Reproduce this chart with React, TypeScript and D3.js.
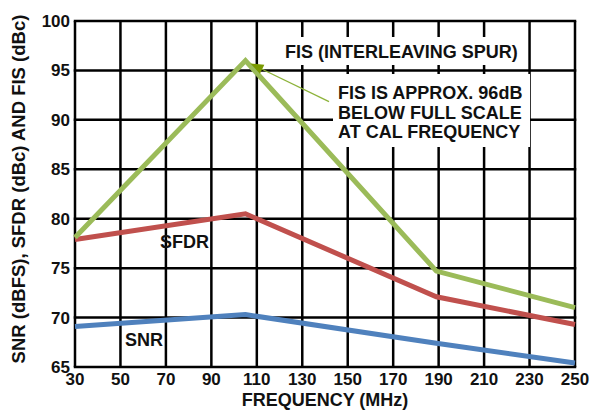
import React from 'react';
import * as d3 from 'd3';

const freqs = [30, 105, 189, 250];
const fis = [78.1, 96, 74.7, 71];
const sfdr = [77.9, 80.5, 72.1, 69.3];
const snr = [69.1, 70.3, 67.4, 65.4];
const xTicks = [30, 50, 70, 90, 110, 130, 150, 170, 190, 210, 230, 250];
const yTicks = [65, 70, 75, 80, 85, 90, 95, 100];

const W = 600;
const H = 414;
const m = { left: 75, right: 25, top: 21, bottom: 47 };
const font = '"Liberation Sans", Arial, sans-serif';

const App = () => {
  const x = d3.scaleLinear().domain([30, 250]).range([m.left, W - m.right]);
  const y = d3.scaleLinear().domain([65, 100]).range([H - m.bottom, m.top]);

  const line = d3
    .line<number>()
    .x((d, i) => x(freqs[i]))
    .y((d) => y(d));

  const series = [
    { vals: snr, color: '#4F81BD' },
    { vals: sfdr, color: '#C0504D' },
    { vals: fis, color: '#9BBB59' },
  ];

  // arrow from the note to the FIS peak
  const tipX = x(105) + 5;
  const tipY = y(96) + 3;
  const fromX = 329;
  const fromY = 101.7;
  const ang = Math.atan2(fromY - tipY, fromX - tipX);
  const hl = 13;
  const hw = 5;
  const bx = tipX + hl * Math.cos(ang);
  const by = tipY + hl * Math.sin(ang);
  const head = `M${tipX},${tipY} L${bx + hw * Math.sin(ang)},${by - hw * Math.cos(ang)} L${bx - hw * Math.sin(ang)},${by + hw * Math.cos(ang)} Z`;

  return (
    <svg width={W} height={H} style={{ position: 'absolute', left: 0, top: 0, background: '#fff' }}
      fontFamily={font} fontWeight="bold" fill="#111">
      {xTicks.map((t) => (
        <line key={`gx${t}`} x1={x(t)} x2={x(t)} y1={y(65)} y2={y(100)} stroke="#000" strokeWidth={2.5} />
      ))}
      {yTicks.map((t) => (
        <line key={`gy${t}`} x1={x(30) - 1.25} x2={x(250) + 1.25} y1={y(t)} y2={y(t)} stroke="#000" strokeWidth={2.5} />
      ))}

      <rect x={281} y={37} width={244} height={28} fill="#fff" />
      <rect x={333} y={74} width={197} height={73} fill="#fff" />

      {series.map((s, i) => (
        <path key={i} d={line(s.vals) || ''} fill="none" stroke={s.color} strokeWidth={5} strokeLinejoin="miter" />
      ))}

      <line x1={fromX} y1={fromY} x2={bx} y2={by} stroke="#8DB33A" strokeWidth={1.3} />
      <path d={head} fill="#7A9A01" />

      {xTicks.map((t) => (
        <text key={`tx${t}`} x={x(t)} y={385} textAnchor="middle" fontSize={17}>{t}</text>
      ))}
      {yTicks.map((t) => (
        <text key={`ty${t}`} x={70} y={y(t) + 6} textAnchor="end" fontSize={17}>{t}</text>
      ))}

      <text x={x(140)} y={406} textAnchor="middle" fontSize={18}>FREQUENCY (MHz)</text>
      <text transform="translate(25,189) rotate(-90)" textAnchor="middle" fontSize={18.5}>
        SNR (dBFS), SFDR (dBc) AND FIS (dBc)
      </text>

      <text x={285} y={58} fontSize={18}>FIS (INTERLEAVING SPUR)</text>
      <text x={338} y={99} fontSize={18}>FIS IS APPROX. 96dB</text>
      <text x={338} y={119} fontSize={18}>BELOW FULL SCALE</text>
      <text x={338} y={138} fontSize={18}>AT CAL FREQUENCY</text>
      <text x={160} y={248} fontSize={18}>SFDR</text>
      <text x={125} y={346} fontSize={18}>SNR</text>
    </svg>
  );
};

export default App;
